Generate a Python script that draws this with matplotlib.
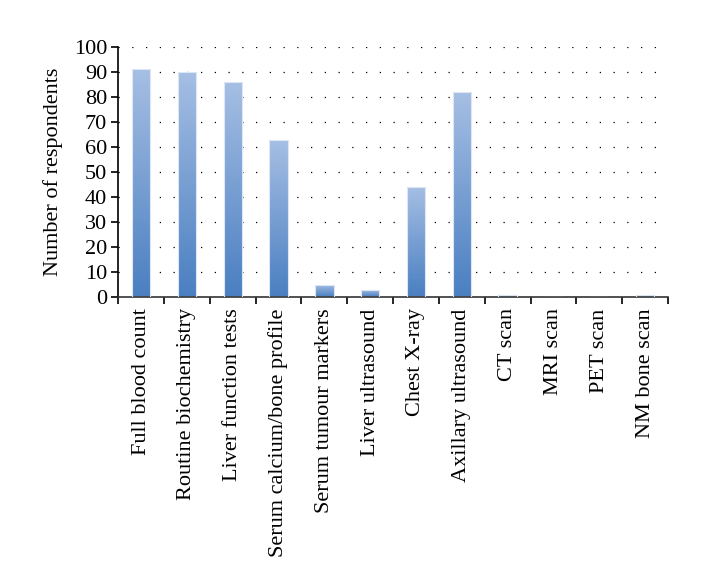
import numpy as np
import matplotlib.pyplot as plt
from matplotlib.colors import LinearSegmentedColormap

plt.rcParams['font.family'] = ['Liberation Serif', 'DejaVu Serif']

#---- data ------------------------------------------------------------
tests = ['Full blood count', 'Routine biochemistry', 'Liver function tests',
         'Serum calcium/bone profile', 'Serum tumour markers',
         'Liver ultrasound', 'Chest X-ray', 'Axillary ultrasound',
         'CT scan', 'MRI scan', 'PET scan', 'NM bone scan']
respondents = [91, 90, 86, 63, 5, 3, 44, 82, 1, 0, 0, 1]
y_ticks = list(range(0, 101, 10))

#---- figure ----------------------------------------------------------
fig = plt.figure(figsize=(7.16, 5.66), dpi=100)
ax = fig.add_axes([0.165, 0.475, 0.768, 0.442])

x = np.arange(len(tests))
bars = ax.bar(x, respondents, width=0.4, color='none',
              edgecolor='#dce6f4', linewidth=0.8, zorder=3)

# vertical gradient fill, light on top, darker at the base
cmap = LinearSegmentedColormap.from_list('bargrad', ['#4a7fc1', '#a6bfe4'])
grad = np.linspace(0, 1, 256).reshape(-1, 1)
for b in bars:
  h = b.get_height()
  if h <= 0:
    continue
  im = ax.imshow(grad, cmap=cmap, origin='lower', aspect='auto',
                 extent=[b.get_x(), b.get_x() + b.get_width(), 0, h],
                 zorder=2)
  im.set_clip_path(b)
#end

ax.set_xlim(-0.5, len(tests) - 0.5)
ax.set_ylim(0, 100)
ax.set_yticks(y_ticks)
ax.yaxis.grid(True, color='black', linewidth=0.9, linestyle=(0, (1, 10)))
ax.set_axisbelow(True)

ax.set_xticks(x)
ax.set_xticklabels(tests, rotation=90, fontsize=16)
ax.set_xticks(np.arange(len(tests) + 1) - 0.5, minor=True)
ax.tick_params(axis='x', which='major', length=0, pad=8)
ax.tick_params(axis='x', which='minor', direction='out', length=5, width=1.2)
ax.tick_params(axis='y', direction='out', length=5, width=1.2, labelsize=16,
               pad=3)

for s in ['top', 'right']:
  ax.spines[s].set_visible(False)
ax.spines['left'].set_linewidth(1.2)
ax.spines['bottom'].set_linewidth(1.2)
ax.spines['bottom'].set_color('#333333')

ax.set_ylabel('Number of respondents', fontsize=16, labelpad=8)

fig.savefig('out.png', dpi=100)
